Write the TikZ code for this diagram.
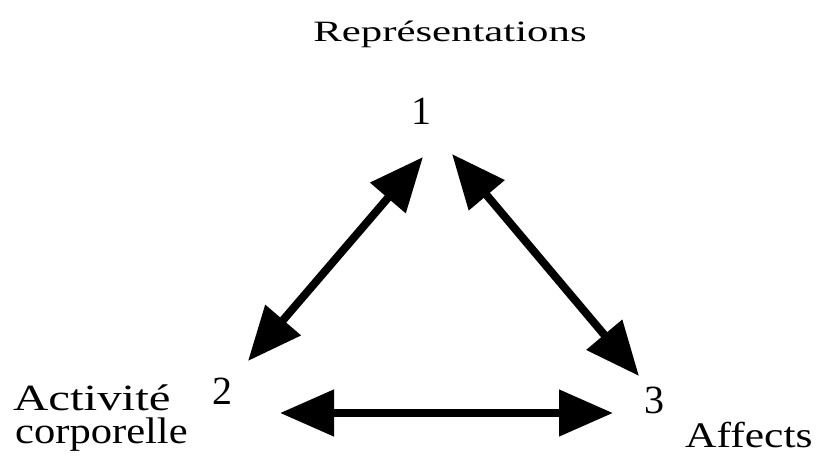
\documentclass[tikz,border=0pt]{standalone}
\usepackage{fontspec}
\setmainfont{Liberation Serif}
\usetikzlibrary{arrows.meta}

\begin{document}
\begin{tikzpicture}[
  x=1pt, y=1pt,
  num/.style={inner sep=0pt, font=\fontsize{40}{44}\selectfont},
  lbl/.style={inner sep=0pt, anchor=base west},
  link/.style={{Triangle[length=54pt,width=45pt]}-{Triangle[length=54pt,width=45pt]},
               line width=8pt}
]
\useasboundingbox (0,0) rectangle (816,459);

% Top pole
\node[lbl, anchor=base, font=\fontsize{29.5}{33}\selectfont] (rep) at (450,417.3)
  {\scalebox{1.45}[1]{Représentations}};
\node[num] (n1) at (421,348) {1};

% Left and right poles
\node[num] (n2) at (222,68) {2};
\node[num] (n3) at (654,59) {3};

\node[lbl, font=\fontsize{37}{40}\selectfont] (act) at (13,49)
  {\scalebox{1.32}[1]{Activité}};
\node[lbl, font=\fontsize{37}{40}\selectfont] (corp) at (15,16)
  {\scalebox{1.15}[1]{corporelle}};
\node[lbl, font=\fontsize{36}{40}\selectfont] (aff) at (685,12)
  {\scalebox{1.21}[1]{Affects}};

% Arrow ends
\coordinate (a12) at (423,302);
\coordinate (a21) at (248,98);
\coordinate (a13) at (452,305);
\coordinate (a31) at (639,83);
\coordinate (a23) at (280,46);
\coordinate (a32) at (613,46);

\draw[link] (a12) -- (a21);
\draw[link] (a13) -- (a31);
\draw[link] (a23) -- (a32);

\end{tikzpicture}
\end{document}
